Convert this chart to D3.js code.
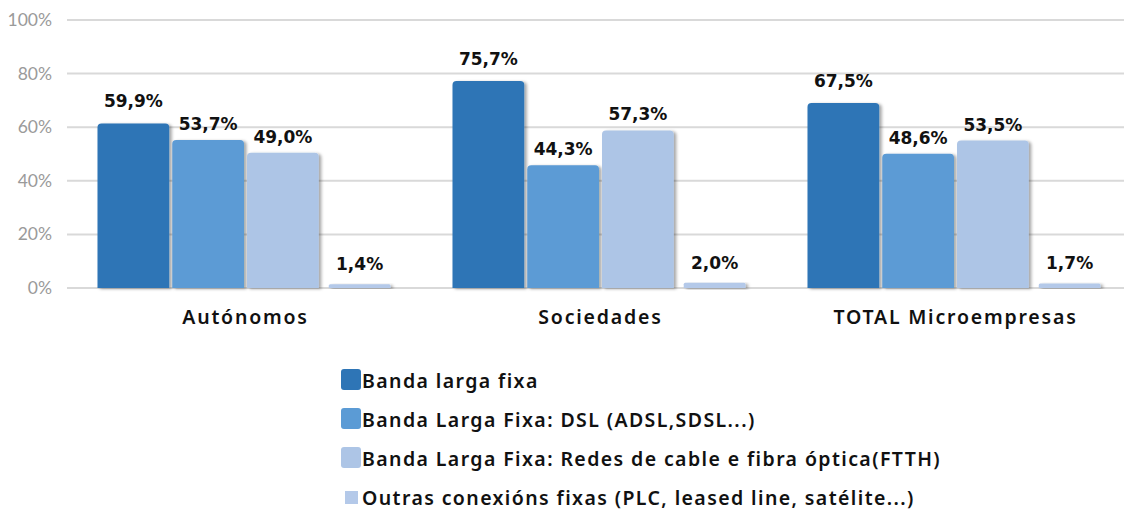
<!DOCTYPE html>
<html>
<head>
<meta charset="utf-8">
<script src="https://cdn.jsdelivr.net/npm/d3@7"></script>
<style>
  body { margin: 0; background: #fff; }
  svg { display: block; }
</style>
</head>
<body>
<svg id="chart"></svg>
<script>
// dati
var categories = ["Autónomos", "Sociedades", "TOTAL Microempresas"];
var series = [
  "Banda larga fixa",
  "Banda Larga Fixa: DSL (ADSL,SDSL...)",
  "Banda Larga Fixa: Redes de cable e fibra óptica(FTTH)",
  "Outras conexións fixas (PLC, leased line, satélite...)"
];
var values = [
  [59.9, 75.7, 67.5],
  [53.7, 44.3, 48.6],
  [49.0, 57.3, 53.5],
  [1.4, 2.0, 1.7]
];
var yTicks = [0, 20, 40, 60, 80, 100];
var colors = ["#2E75B6", "#5B9BD5", "#ADC5E6", "#B4C9E9"];

var width = 1124, height = 510;
var svg = d3.select("#chart").attr("width", width).attr("height", height);

var defs = svg.append("defs");
var f = defs.append("filter").attr("id", "shadow")
  .attr("x", "-10%").attr("y", "-10%").attr("width", "130%").attr("height", "130%");
f.append("feDropShadow").attr("dx", 2.5).attr("dy", 1).attr("stdDeviation", 1.5)
  .attr("flood-color", "#000").attr("flood-opacity", 0.35);

var x0 = d3.scaleBand().domain(categories).range([68, 1133]);
var x1 = d3.scaleBand().domain(d3.range(series.length)).range([0, 296]).paddingInner(0.04);
var y = d3.scaleLinear().domain([0, 100]).range([288, 20]);

// griglia
svg.append("g").selectAll("line")
  .data(yTicks)
  .enter().append("line")
  .attr("x1", 67).attr("x2", width)
  .attr("y1", function(d){ return y(d); })
  .attr("y2", function(d){ return y(d); })
  .attr("stroke", "#d9d9d9").attr("stroke-width", 2);

// etichette asse y
svg.append("g").selectAll("text")
  .data(yTicks)
  .enter().append("text")
  .attr("x", 52).attr("y", function(d){ return y(d) + 6; })
  .attr("text-anchor", "end")
  .style("font-family", "Lato, 'Open Sans', sans-serif")
  .style("font-size", "17.5px")
  .style("fill", "#9a9a9a")
  .text(function(d){ return d + "%"; });

// barre
var groups = svg.append("g").selectAll("g")
  .data(categories)
  .enter().append("g")
  .attr("transform", function(d){ return "translate(" + (x0(d) + (x0.bandwidth() - 296) / 2) + ",0)"; });

groups.selectAll("path")
  .data(function(c, ci){ return series.map(function(s, si){ return {s: si, v: values[si][ci]}; }); })
  .enter().append("path")
  .attr("filter", "url(#shadow)")
  .attr("fill", function(d){ return colors[d.s]; })
  .attr("d", function(d){
    var bx = x1(d.s), bw = x1.bandwidth();
    var cap = 4, r = 4;
    if (d.s === 3) { bx += 7; bw -= 10; cap = 0; r = 1.5; }
    var top = y(d.v) - cap, bot = y(0);
    return "M" + bx + "," + bot + "V" + (top + r) + "Q" + bx + "," + top + " " + (bx + r) + "," + top +
      "H" + (bx + bw - r) + "Q" + (bx + bw) + "," + top + " " + (bx + bw) + "," + (top + r) + "V" + bot + "Z";
  });

groups.selectAll("text")
  .data(function(c, ci){ return series.map(function(s, si){ return {s: si, v: values[si][ci]}; }); })
  .enter().append("text")
  .attr("x", function(d){ return x1(d.s) + x1.bandwidth() / 2 + (d.s === 3 ? 2 : 0); })
  .attr("y", function(d){ return y(d.v) - (d.s === 0 ? 20 : 14); })
  .attr("text-anchor", "middle")
  .style("font-family", "'DejaVu Sans', sans-serif")
  .style("font-weight", "bold")
  .style("font-size", "17px")
  .style("fill", "#111")
  .text(function(d){ return d.v.toFixed(1).replace(".", ",") + "%"; });

// etichette categorie
svg.append("g").selectAll("text")
  .data(categories)
  .enter().append("text")
  .attr("x", function(d){ return x0(d) + x0.bandwidth() / 2; })
  .attr("y", 324)
  .attr("text-anchor", "middle")
  .style("font-family", "'Noto Sans', sans-serif")
  .style("font-weight", "600")
  .style("font-size", "19.5px")
  .style("letter-spacing", "1.8px")
  .style("fill", "#111")
  .text(function(d){ return d; });

// legenda
var legend = svg.append("g").selectAll("g")
  .data(series)
  .enter().append("g")
  .attr("transform", function(d, i){ return "translate(341," + (388 + i * 39) + ")"; });

legend.append("rect")
  .attr("x", function(d, i){ return i === 3 ? 4 : 0; })
  .attr("y", function(d, i){ return i === 3 ? -14 : -19; })
  .attr("width", function(d, i){ return i === 3 ? 13 : 20; })
  .attr("height", function(d, i){ return i === 3 ? 13 : 21; })
  .attr("rx", function(d, i){ return i === 3 ? 0 : 3; })
  .attr("fill", function(d, i){ return colors[i]; });

legend.append("text")
  .attr("x", 21)
  .attr("y", 0)
  .style("font-family", "'Noto Sans', sans-serif")
  .style("font-weight", "600")
  .style("font-size", "19.5px")
  .style("letter-spacing", "1.4px")
  .style("fill", "#111")
  .text(function(d){ return d; });
</script>
</body>
</html>
